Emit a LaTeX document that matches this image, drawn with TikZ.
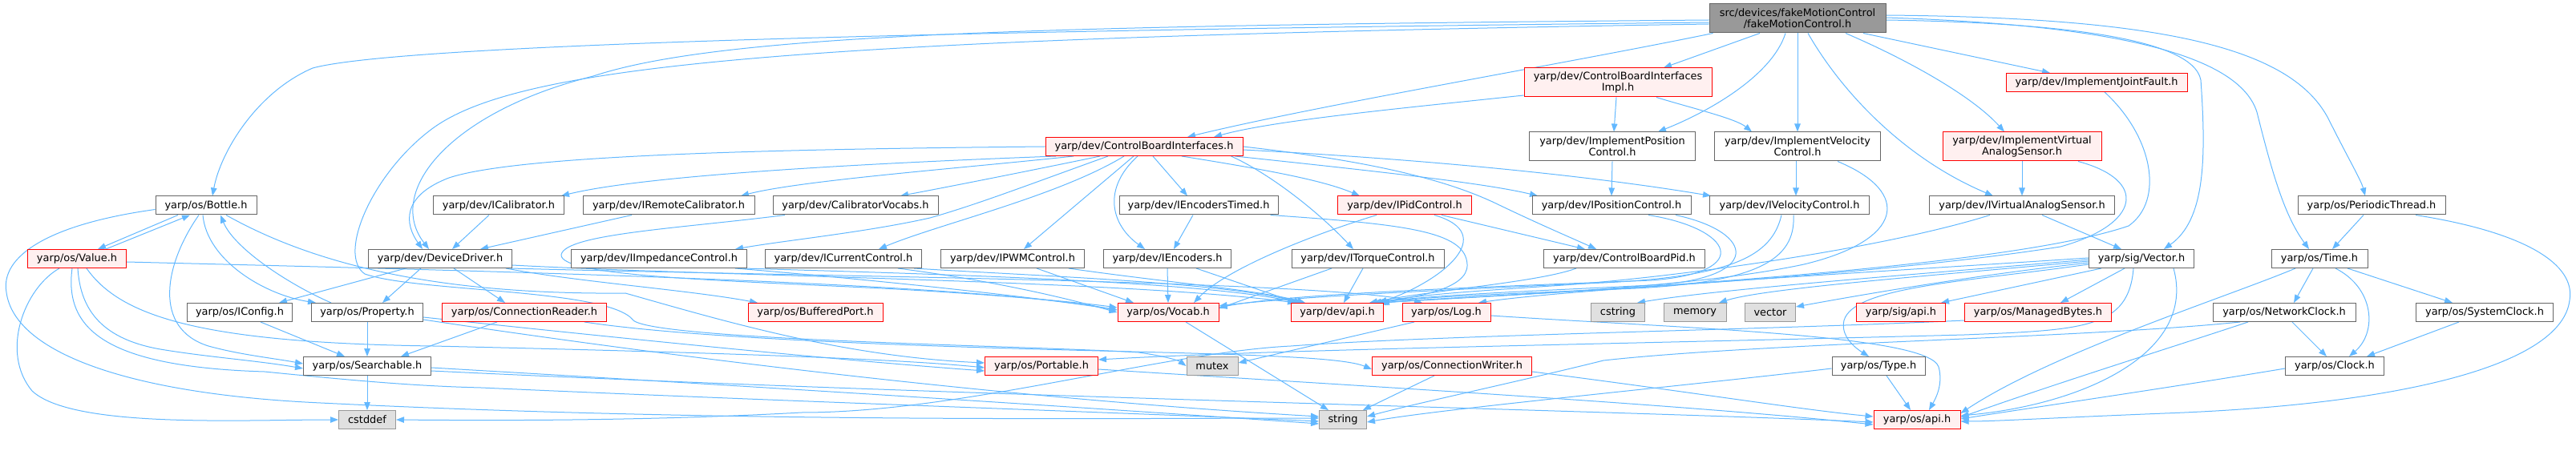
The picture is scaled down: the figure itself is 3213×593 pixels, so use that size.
\documentclass[tikz,border=0pt]{standalone}
\usepackage{fontspec}
\setmainfont{DejaVu Sans}
\usetikzlibrary{arrows.meta}
\definecolor{edgec}{RGB}{99,184,255}
\definecolor{redfill}{RGB}{255,240,240}
\definecolor{stdfill}{RGB}{224,224,224}
\definecolor{stdline}{RGB}{153,153,153}
\definecolor{nodeline}{RGB}{102,102,102}
\definecolor{rootfill}{RGB}{153,153,153}
\pgfdeclarelayer{bg}
\pgfsetlayers{bg,main}
\tikzset{
  nd/.style={draw=nodeline, fill=white, line width=1pt, inner xsep=2pt, inner ysep=0pt,
    minimum height=23pt, font=\fontsize{12.9}{13.8}\selectfont, align=center, text=black},
  rd/.style={nd, draw=red, fill=redfill},
  sd/.style={nd, draw=stdline, fill=stdfill},
  rt/.style={nd, fill=rootfill, draw=nodeline},
  tall/.style={minimum height=36pt},
  e/.style={draw=edgec, line width=1pt, -{Triangle[length=10pt,width=7.5pt]}}
}
\begin{document}
\begin{tikzpicture}[x=1pt,y=-1pt]
\useasboundingbox (0,0) rectangle (3213,593);
% row 0-3
\node[rt,tall,minimum width=220pt] (fmc) at (2242,23) {src/devices/fakeMotionControl\\/fakeMotionControl.h};
\node[rd,tall,minimum width=234pt] (cbiImpl) at (2018,103) {yarp/dev/ControlBoardInterfaces\\Impl.h};
\node[rd,minimum width=226pt] (jfault) at (2615,103) {yarp/dev/ImplementJointFault.h};
\node[rd,minimum width=246pt] (cbi) at (1427,183) {yarp/dev/ControlBoardInterfaces.h};
\node[nd,tall,minimum width=207pt] (implPos) at (2011,183) {yarp/dev/ImplementPosition\\Control.h};
\node[nd,tall,minimum width=207pt] (implVel) at (2242,183) {yarp/dev/ImplementVelocity\\Control.h};
\node[rd,tall,minimum width=198pt] (implVAS) at (2522,183) {yarp/dev/ImplementVirtual\\AnalogSensor.h};
% row 4
\node[nd,minimum width=126pt] (bottle) at (257,256.5) {yarp/os/Bottle.h};
\node[nd,minimum width=163pt] (ical) at (622,256.5) {yarp/dev/ICalibrator.h};
\node[nd,minimum width=214pt] (iremcal) at (834,256.5) {yarp/dev/IRemoteCalibrator.h};
\node[nd,minimum width=206pt] (calvoc) at (1067,256.5) {yarp/dev/CalibratorVocabs.h};
\node[nd,minimum width=198pt] (iencT) at (1495,256.5) {yarp/dev/IEncodersTimed.h};
\node[rd,minimum width=167pt] (ipid) at (1752,256.5) {yarp/dev/IPidControl.h};
\node[nd,minimum width=198pt] (ipos) at (2010,256.5) {yarp/dev/IPositionControl.h};
\node[nd,minimum width=199pt] (ivel) at (2232,256.5) {yarp/dev/IVelocityControl.h};
\node[nd,minimum width=231pt] (ivas) at (2522,256.5) {yarp/dev/IVirtualAnalogSensor.h};
\node[nd,minimum width=184pt] (periodic) at (2958,256.5) {yarp/os/PeriodicThread.h};
% row 5
\node[rd,minimum width=123pt] (value) at (96,323) {yarp/os/Value.h};
\node[nd,minimum width=179pt] (devdrv) at (549,323) {yarp/dev/DeviceDriver.h};
\node[nd,minimum width=219pt] (iimp) at (822,323) {yarp/dev/IImpedanceControl.h};
\node[nd,minimum width=195pt] (icur) at (1052,323) {yarp/dev/ICurrentControl.h};
\node[nd,minimum width=179pt] (ipwm) at (1263,323) {yarp/dev/IPWMControl.h};
\node[nd,minimum width=159pt] (ienc) at (1456,323) {yarp/dev/IEncoders.h};
\node[nd,minimum width=190pt] (itorq) at (1706,323) {yarp/dev/ITorqueControl.h};
\node[nd,minimum width=201pt] (cbpid) at (2026,323) {yarp/dev/ControlBoardPid.h};
\node[nd,minimum width=131pt] (svec) at (2671,323) {yarp/sig/Vector.h};
\node[nd,minimum width=120pt] (time) at (2893,323) {yarp/os/Time.h};
% row 6
\node[nd,minimum width=131pt] (iconfig) at (299,390) {yarp/os/IConfig.h};
\node[nd,minimum width=139pt] (property) at (458,390) {yarp/os/Property.h};
\node[rd,minimum width=205pt] (creader) at (654,390) {yarp/os/ConnectionReader.h};
\node[rd,minimum width=168pt] (bport) at (1017,390) {yarp/os/BufferedPort.h};
\node[rd,minimum width=126pt] (vocab) at (1457,390) {yarp/os/Vocab.h};
\node[rd,minimum width=115pt] (dapi) at (1668,390) {yarp/dev/api.h};
\node[rd,minimum width=110pt] (log) at (1804,390) {yarp/os/Log.h};
\node[sd,minimum width=67pt] (cstring) at (2018,390) {cstring};
\node[sd,minimum width=78pt] (memory) at (2114,390) {memory};
\node[sd,minimum width=63pt] (vecstd) at (2208,390) {vector};
\node[rd,minimum width=111pt] (sapi) at (2371,390) {yarp/sig/api.h};
\node[rd,minimum width=183pt] (mbytes) at (2542,390) {yarp/os/ManagedBytes.h};
\node[nd,minimum width=178pt] (nclock) at (2849,390) {yarp/os/NetworkClock.h};
\node[nd,minimum width=171pt] (sclock) at (3099,390) {yarp/os/SystemClock.h};
% row 7
\node[nd,minimum width=159pt] (search) at (458,457) {yarp/os/Searchable.h};
\node[rd,minimum width=141pt] (portable) at (1299,457) {yarp/os/Portable.h};
\node[sd,minimum width=64pt] (mutex) at (1512,457) {mutex};
\node[rd,minimum width=199pt] (cwriter) at (1811,457) {yarp/os/ConnectionWriter.h};
\node[nd,minimum width=116pt] (type) at (2343,457) {yarp/os/Type.h};
\node[nd,minimum width=123pt] (clock) at (2912,457) {yarp/os/Clock.h};
% row 8
\node[sd,minimum width=71pt] (cstddef) at (458,524) {cstddef};
\node[sd,minimum width=59pt] (string) at (1675,524) {string};
\node[rd,minimum width=108pt] (osapi) at (2391,524) {yarp/os/api.h};

\begin{pgfonlayer}{bg}
% root
\draw[e] ([yshift=-5]fmc.west) .. controls (1200,38) and (500,55) .. (390,85) .. controls (320,115) and (275,190) .. ([xshift=8]bottle.north);
\draw[e] ([yshift=-2]fmc.west) .. controls (1300,32) and (900,42) .. (740,95) .. controls (560,140) and (480,240) .. ([xshift=-14]devdrv.north);
\draw[e] ([yshift=-7]fmc.west) .. controls (1000,48) and (650,80) .. (540,160) .. controls (465,215) and (420,318) .. (455,342) .. controls (520,365) and (760,360) .. (790,400) .. controls (820,425) and (1300,432) .. (1420,440) .. controls (1450,444) and (1470,450) .. (mutex.west);
\draw[e] ([xshift=5]fmc.south west) .. controls (1950,80) and (1650,130) .. ([xshift=54]cbi.north);
\draw[e] ([xshift=-47]fmc.south) -- ([xshift=57]cbiImpl.north);
\draw[e] ([xshift=-15]fmc.south) .. controls (2210,95) and (2130,140) .. ([xshift=57]implPos.north);
\draw[e] (fmc.south) -- (implVel.north);
\draw[e] ([xshift=13]fmc.south) .. controls (2300,120) and (2380,200) .. ([xshift=-36]ivas.north);
\draw[e] ([xshift=60]fmc.south) .. controls (2380,75) and (2460,120) .. ([xshift=-22]implVAS.north);
\draw[e] ([xshift=82]fmc.south) -- ([xshift=-58]jfault.north);
\draw[e] ([yshift=-2]fmc.east) .. controls (2550,28) and (2735,45) .. (2745,100) .. controls (2752,200) and (2750,275) .. ([xshift=28]svec.north);
\draw[e] ([yshift=1]fmc.east) .. controls (2600,30) and (2790,60) .. (2815,140) .. controls (2835,220) and (2850,270) .. ([xshift=-13]time.north);
\draw[e] ([yshift=4]fmc.east) .. controls (2700,22) and (2860,60) .. (2905,150) .. controls (2930,200) and (2945,225) .. ([xshift=-8]periodic.north);
% cbiImpl
\draw[e] ([yshift=-16]cbiImpl.west) .. controls (1750,135) and (1590,150) .. ([xshift=87]cbi.north);
\draw[e] ([xshift=-2]cbiImpl.south) -- ([xshift=2]implPos.north);
\draw[e] ([xshift=48]cbiImpl.south) .. controls (2110,135) and (2165,148) .. ([xshift=-57]implVel.north);
% cbi
\draw[e] (cbi.west) .. controls (1000,186) and (650,192) .. (560,222) .. controls (500,245) and (505,280) .. ([xshift=-22]devdrv.north);
\draw[e] ([xshift=-110]cbi.south) .. controls (1050,205) and (800,220) .. ([xshift=78]ical.north);
\draw[e] ([xshift=-88]cbi.south) .. controls (1200,210) and (1000,225) .. ([xshift=90]iremcal.north);
\draw[e] ([xshift=-55]cbi.south) .. controls (1300,210) and (1200,230) .. ([xshift=56]calvoc.north);
\draw[e] ([xshift=-45]cbi.south) .. controls (1290,228) and (1220,255) .. (1160,272) .. controls (1080,290) and (980,300) .. ([xshift=95]iimp.north);
\draw[e] ([xshift=-25]cbi.south) .. controls (1320,245) and (1170,280) .. ([xshift=44]icur.north);
\draw[e] ([xshift=-13]cbi.south) -- ([xshift=14]ipwm.north);
\draw[e] ([xshift=-8]cbi.south) .. controls (1375,235) and (1385,280) .. ([xshift=-28]ienc.north);
\draw[e] ([xshift=11]cbi.south) -- ([xshift=-14]iencT.north);
\draw[e] ([xshift=47]cbi.south) .. controls (1580,212) and (1650,225) .. ([xshift=-56]ipid.north);
\draw[e] ([xshift=-15]cbi.south east) .. controls (1580,215) and (1640,260) .. ([xshift=-18]itorq.north);
\draw[e] ([xshift=-10]cbi.south east) .. controls (1700,212) and (1850,228) .. ([xshift=-92]ipos.north);
\draw[e] ([yshift=-4]cbi.east) .. controls (1800,200) and (2000,222) .. ([xshift=-98]ivel.north);
\draw[e] (cbi.east) .. controls (1700,200) and (1800,222) .. (1868,255) .. controls (1920,280) and (1960,297) .. ([xshift=-35]cbpid.north);
% implementations
\draw[e] (implPos.south) -- (ipos.north);
\draw[e] ([xshift=-2]implVel.south) -- ([xshift=8]ivel.north);
\draw[e] ([xshift=50]implVel.south) .. controls (2385,240) and (2375,300) .. (2250,330) .. controls (2100,362) and (1850,368) .. ([xshift=55]dapi.north);
\draw[e] (implVAS.south) -- (ivas.north);
\draw[e] ([xshift=70]implVAS.south) .. controls (2680,225) and (2670,280) .. (2570,308) .. controls (2300,350) and (1900,366) .. ([xshift=53]dapi.north);
\draw[e] ([xshift=10]jfault.south) .. controls (2685,170) and (2700,250) .. (2655,282) .. controls (2500,335) and (2000,362) .. ([xshift=51]dapi.north);
% bottle / value / property
\draw[e] ([xshift=-35]bottle.south) -- ([xshift=26]value.north);
\draw[e] ([xshift=36]value.north) -- ([xshift=-20]bottle.south);
\draw[e] ([xshift=-9]bottle.south) .. controls (205,330) and (190,410) .. (260,432) .. controls (300,443) and (340,447) .. ([yshift=3]search.west);
\draw[e] ([xshift=-4]bottle.south) .. controls (258,325) and (330,368) .. ([xshift=6]property.north west);
\draw[e] ([xshift=-45]property.north) .. controls (360,355) and (292,310) .. ([xshift=18]bottle.south);
\draw[e] ([xshift=25]bottle.south) .. controls (400,335) and (560,368) .. (780,366) .. controls (900,400) and (1050,445) .. ([yshift=4]portable.west);
\draw[e] ([yshift=-5]bottle.west) .. controls (60,280) and (0,320) .. (8,365) .. controls (18,440) and (160,492) .. (400,503) .. controls (900,528) and (1400,522) .. ([yshift=2]string.west);
\draw[e] ([xshift=1]value.south) .. controls (100,380) and (120,422) .. (200,436) .. controls (260,446) and (320,450) .. ([yshift=-3]search.west);
\draw[e] ([xshift=-6]value.south) .. controls (80,410) and (130,458) .. (330,464) .. controls (450,476) and (520,482) .. (600,484) .. controls (1000,502) and (1400,515) .. ([yshift=-2]string.west);
\draw[e] ([xshift=-22]value.south) .. controls (30,360) and (0,440) .. (40,488) .. controls (90,535) and (300,524) .. (cstddef.west);
\draw[e] ([yshift=-4]value.east) .. controls (600,338) and (1200,352) .. ([yshift=3]vocab.west);
\draw[e] ([xshift=12]value.south) .. controls (150,395) and (250,428) .. (540,432) .. controls (800,438) and (1100,446) .. ([yshift=-2]portable.west);
\draw[e] (property.south) -- (search.north);
\draw[e] ([yshift=-6]property.east) .. controls (800,425) and (1050,450) .. ([yshift=-6]portable.west);
\draw[e] ([yshift=-9]property.east) .. controls (900,455) and (1300,500) .. ([yshift=4]string.west);
\draw[e] ([xshift=26]iconfig.south) -- ([xshift=-28]search.north);
\draw[e] (search.south) -- (cstddef.north);
\draw[e] ([yshift=-2]search.east) .. controls (900,480) and (1300,505) .. ([yshift=-5]string.west);
\draw[e] ([yshift=-6]search.east) .. controls (1200,495) and (2000,512) .. ([yshift=-3]osapi.west);
% device driver & calibrators
\draw[e] ([xshift=-43]devdrv.south) -- ([xshift=49]iconfig.north);
\draw[e] ([xshift=-24]devdrv.south) -- ([xshift=19]property.north);
\draw[e] ([xshift=17]devdrv.south) -- ([xshift=-24]creader.north);
\draw[e] ([xshift=-8]devdrv.south east) .. controls (720,352) and (860,362) .. ([xshift=-72]bport.north);
\draw[e] ([yshift=-8]devdrv.east) .. controls (900,345) and (1400,350) .. ([xshift=-52]dapi.north);
\draw[e] ([xshift=-2]devdrv.south east) .. controls (1000,345) and (1650,350) .. ([xshift=-30]log.north);
\draw[e] ([xshift=-12]ical.south) -- ([xshift=15]devdrv.north);
\draw[e] ([xshift=-46]iremcal.south) -- ([xshift=50]devdrv.north);
\draw[e] ([xshift=-88]calvoc.south) .. controls (850,285) and (705,292) .. (700,318) .. controls (698,345) and (900,350) .. (1100,360) .. controls (1250,368) and (1350,378) .. ([yshift=6]vocab.west);
% interfaces to vocab / api
\draw[e] ([xshift=95]iimp.south) .. controls (1100,350) and (1300,372) .. ([yshift=3]vocab.west);
\draw[e] ([xshift=-5]iimp.south east) .. controls (1200,343) and (1500,352) .. ([xshift=-48]dapi.north);
\draw[e] ([xshift=-30]icur.south east) .. controls (1250,352) and (1340,375) .. (vocab.west);
\draw[e] ([xshift=-10]icur.south east) .. controls (1300,345) and (1520,352) .. ([xshift=-44]dapi.north);
\draw[e] ([xshift=30]ipwm.south) -- ([xshift=-43]vocab.north);
\draw[e] ([xshift=70]ipwm.south) .. controls (1450,352) and (1570,362) .. ([xshift=-40]dapi.north);
\draw[e] (ienc.south) -- (vocab.north);
\draw[e] ([xshift=36]ienc.south) -- ([xshift=-50]dapi.north);
\draw[e] ([xshift=-7]iencT.south) -- ([xshift=8]ienc.north);
\draw[e] ([xshift=-10]iencT.south east) .. controls (1750,280) and (1828,288) .. (1830,330) .. controls (1832,362) and (1760,372) .. ([xshift=45]dapi.north);
\draw[e] ([xshift=-35]ipid.south) .. controls (1640,292) and (1530,335) .. ([xshift=32]vocab.north);
\draw[e] ([xshift=37]ipid.south) .. controls (1870,292) and (1800,350) .. ([xshift=52]dapi.north);
\draw[e] ([xshift=46]ipid.south) -- ([xshift=-49]cbpid.north);
\draw[e] ([xshift=-45]itorq.south) -- ([yshift=5]vocab.east);
\draw[e] ([xshift=-6]itorq.south) -- ([xshift=8]dapi.north);
\draw[e] ([xshift=46]ipos.south) .. controls (2160,285) and (2190,340) .. (2060,350) .. controls (1800,360) and (1600,368) .. ([yshift=6]vocab.east);
\draw[e] ([xshift=80]ipos.south) .. controls (2190,290) and (2200,348) .. (2060,356) .. controls (1900,364) and (1790,368) .. ([xshift=48]dapi.north);
\draw[e] ([xshift=-10]ivel.south) .. controls (2210,320) and (2160,345) .. (2000,353) .. controls (1800,362) and (1620,370) .. ([yshift=8]vocab.east);
\draw[e] ([xshift=5]ivel.south) .. controls (2240,325) and (2190,352) .. (2040,360) .. controls (1900,366) and (1785,370) .. ([xshift=44]dapi.north);
\draw[e] ([xshift=-60]cbpid.south) .. controls (1920,352) and (1790,362) .. ([xshift=40]dapi.north);
\draw[e] ([xshift=-40]ivas.south) .. controls (2350,310) and (2100,345) .. (1950,356) .. controls (1830,364) and (1770,368) .. ([xshift=50]dapi.north);
\draw[e] ([xshift=25]ivas.south) -- ([xshift=-25]svec.north);
% sig vector
\draw[e] ([yshift=-5]svec.west) .. controls (2450,345) and (2300,372) .. ([yshift=7]vecstd.east);
\draw[e] ([yshift=-3]svec.west) .. controls (2400,345) and (2200,360) .. ([xshift=30]memory.north);
\draw[e] ([yshift=-1]svec.west) .. controls (2400,342) and (2150,360) .. ([xshift=24]cstring.north);
\draw[e] ([yshift=1]svec.west) .. controls (2300,342) and (1950,362) .. ([xshift=40]log.north);
\draw[e] ([xshift=-50]svec.south) -- ([xshift=50]sapi.north);
\draw[e] ([xshift=-21]svec.south) -- ([xshift=28]mbytes.north);
\draw[e] ([yshift=-7]svec.west) .. controls (2450,352) and (2312,358) .. (2300,400) .. controls (2295,420) and (2315,435) .. ([xshift=-12]type.north);
\draw[e] ([xshift=-10]svec.south) .. controls (2655,410) and (2600,412) .. (2450,418) .. controls (2000,430) and (1600,436) .. ([yshift=8]portable.east);
\draw[e] ([xshift=40]svec.south) .. controls (2740,440) and (2600,505) .. ([yshift=5]osapi.east);
\draw[e] ([yshift=2]mbytes.south west) .. controls (2200,412) and (1800,418) .. (1610,432) .. controls (1450,440) and (1200,515) .. (1000,515) .. controls (800,526) and (600,525) .. (cstddef.east);
% time / clocks
\draw[e] ([xshift=-8]time.south) -- ([xshift=12]nclock.north);
\draw[e] ([xshift=20]time.south) .. controls (2962,360) and (2965,415) .. ([xshift=18]clock.north);
\draw[e] ([xshift=35]time.south) -- ([xshift=-40]sclock.north);
\draw[e] ([xshift=-30]time.south) .. controls (2780,370) and (2560,440) .. ([yshift=8]osapi.east);
\draw[e] ([xshift=-10]periodic.south) -- ([xshift=16]time.north);
\draw[e] ([xshift=55]periodic.south) .. controls (3150,290) and (3213,330) .. (3205,375) .. controls (3195,455) and (3000,505) .. (2700,516) .. controls (2550,522) and (2490,526) .. ([yshift=-2]osapi.east);
\draw[e] ([xshift=10]nclock.south) -- ([xshift=-10]clock.north);
\draw[e] ([xshift=-45]nclock.south) .. controls (2720,430) and (2560,480) .. ([yshift=3]osapi.east);
\draw[e] ([xshift=-55]nclock.south) .. controls (2600,422) and (2200,428) .. (2000,450) .. controls (1900,475) and (1760,505) .. ([yshift=4]string.east);
\draw[e] ([yshift=-3]clock.west) .. controls (2700,485) and (2540,508) .. ([yshift=1]osapi.east);
\draw[e] ([xshift=-32]sclock.south) -- ([xshift=40]clock.north);
% low level
\draw[e] ([xshift=10]type.south) -- ([xshift=-8]osapi.north);
\draw[e] ([yshift=-3]type.west) .. controls (2100,482) and (1800,510) .. ([yshift=-3]string.east);
\draw[e] ([xshift=-40]log.south) -- ([yshift=4]mutex.east);
\draw[e] ([yshift=-4]log.east) .. controls (2100,410) and (2405,418) .. (2418,458) .. controls (2424,480) and (2414,498) .. ([xshift=15]osapi.north);
\draw[e] ([xshift=-34]creader.south) -- ([xshift=42]search.north);
\draw[e] ([xshift=75]creader.south) .. controls (900,428) and (1300,436) .. (1450,440) .. controls (1600,444) and (1680,448) .. ([yshift=-4]cwriter.west);
\draw[e] ([xshift=-22]cwriter.south) -- (string);
\draw[e] ([yshift=-7]cwriter.east) .. controls (2100,488) and (2250,512) .. ([yshift=4]osapi.west);
\draw[e] ([xshift=22]vocab.south) -- ([xshift=-18]string.north);
\draw[e] ([yshift=-4]portable.east) .. controls (1700,482) and (2100,505) .. ([yshift=-6]osapi.west);
\end{pgfonlayer}
\end{tikzpicture}
\end{document}
